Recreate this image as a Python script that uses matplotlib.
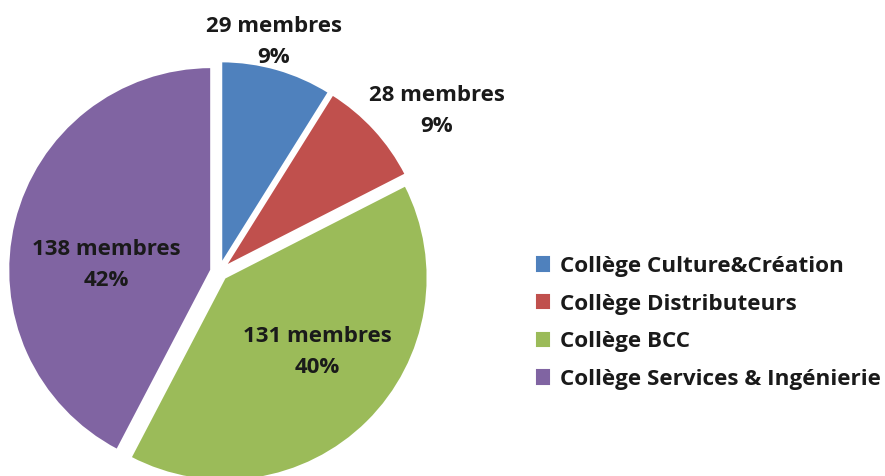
import matplotlib.pyplot as plt

plt.rcParams['font.family'] = ['Open Sans', 'DejaVu Sans']

# college data
colleges = ['Collège Culture&Création', 'Collège Distributeurs',
            'Collège BCC', 'Collège Services & Ingénierie']
members = [29, 28, 131, 138]
percents = ['9%', '9%', '40%', '42%']
colors = ['#4F81BD', '#C0504D', '#9BBB59', '#8064A2']

fig = plt.figure(figsize=(8.85, 4.76), dpi=100)
ax = fig.add_axes([0, 0, 1, 1])

# axes are in pixel units, so explode is in pixels too
wedges, _ = ax.pie(members, colors=colors, startangle=90, counterclock=False,
                   center=(219, 204), radius=203, explode=[8] * 4,
                   wedgeprops=dict(edgecolor='white', linewidth=1.5))
ax.set_xlim(0, 885)
ax.set_ylim(0, 476)
ax.set_aspect('equal')
ax.axis('off')

# label positions (pixels)
label_pos = [(274, 434), (437, 365), (317, 124), (106, 211)]
for n, p, (x, y) in zip(members, percents, label_pos):
    ax.text(x, y, f"{n} membres\n{p}", ha='center', va='center',
            fontsize=16, fontweight='bold', color='#1a1a1a', linespacing=1.6)

leg = ax.legend(wedges, colleges, loc='upper left',
                bbox_to_anchor=(528 / 885, 1 - 247 / 476), frameon=False,
                prop=dict(size=16.2, weight='bold'), handlelength=0.55,
                handleheight=0.55, handletextpad=0.45, labelspacing=0.74,
                borderaxespad=0)
for t in leg.get_texts():
    t.set_color('#1a1a1a')
for h, c in zip(leg.legend_handles, colors):
    h.set_edgecolor(c)

plt.savefig('out.png', dpi=100)
